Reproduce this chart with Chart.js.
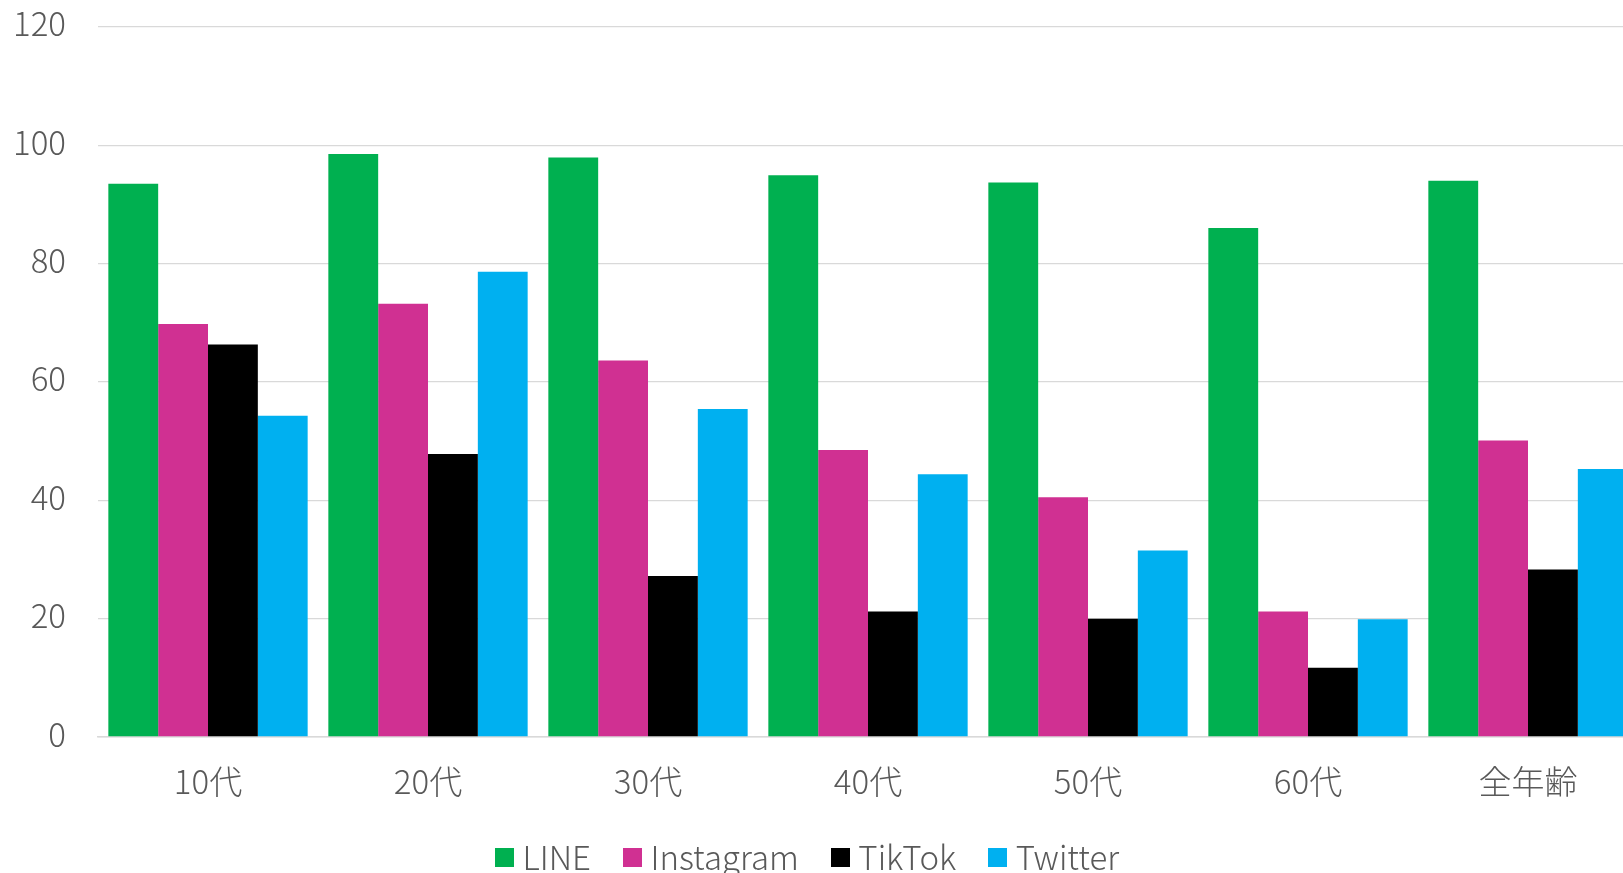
<!DOCTYPE html>
<html lang="ja">
<head>
<meta charset="utf-8">
<title>SNS利用率</title>
<script src="https://cdn.jsdelivr.net/npm/chart.js@4.4.1/dist/chart.umd.min.js"></script>
<style>
  html, body { margin: 0; padding: 0; background: #fff; overflow: hidden; }
  #wrap { width: 1623px; height: 873px; overflow: hidden; position: relative; }
  /* the canvas is a little larger than the view: the plot runs off the right edge like the original */
  canvas { display: block; position: absolute; left: 0; top: -25px; }
</style>
</head>
<body>
<div id="wrap">
  <canvas id="chart" width="1640" height="909"></canvas>
</div>
<script>
const ageGroups = ["10代", "20代", "30代", "40代", "50代", "60代", "全年齢"];
const seriesNames = ["LINE", "Instagram", "TikTok", "Twitter"];
const seriesColors = ["#00B050", "#D03092", "#000000", "#00B0F0"];
const lineValues = [93.5, 98.5, 97.9, 94.9, 93.7, 86.0, 94.0];
const instagramValues = [69.8, 73.2, 63.6, 48.5, 40.5, 21.2, 50.1];
const tiktokValues = [66.3, 47.8, 27.2, 21.2, 20.0, 11.7, 28.3];
const twitterValues = [54.3, 78.6, 55.4, 44.4, 31.5, 19.9, 45.3];
const yTicks = [0, 20, 40, 60, 80, 100, 120];

const fontFamily = "'Noto Sans CJK JP', 'Noto Sans', sans-serif";
const textColor = "#595959";

// square legend markers, drawn as point-style images so the text sits close to them
const markers = seriesColors.map((c) => {
  const cv = document.createElement("canvas");
  cv.width = 19;
  cv.height = 19;
  const g = cv.getContext("2d");
  g.fillStyle = c;
  g.fillRect(0, 0, 19, 19);
  return cv;
});

// nudge the legend a bit left, like the original
const legendShift = {
  id: "legendShift",
  afterLayout(chart) {
    if (chart.legend) {
      chart.legend.left -= 8;
      chart.legend.right -= 8;
    }
  },
};

const ctx = document.getElementById("chart").getContext("2d");

new Chart(ctx, {
  type: "bar",
  data: {
    labels: ageGroups,
    datasets: [
      { label: seriesNames[0], data: lineValues, backgroundColor: seriesColors[0] },
      { label: seriesNames[1], data: instagramValues, backgroundColor: seriesColors[1] },
      { label: seriesNames[2], data: tiktokValues, backgroundColor: seriesColors[2] },
      { label: seriesNames[3], data: twitterValues, backgroundColor: seriesColors[3] },
    ],
  },
  options: {
    responsive: false,
    animation: false,
    devicePixelRatio: 1,
    layout: { padding: { top: 0, right: 2, left: 0, bottom: 0 } },
    datasets: {
      bar: { barPercentage: 1, categoryPercentage: 0.906, borderWidth: 0 },
    },
    scales: {
      x: {
        grid: { display: false },
        border: { display: true, color: "#d9d9d9", width: 1.5 },
        ticks: {
          color: textColor,
          padding: 17,
          maxRotation: 0,
          font: { family: fontFamily, size: 33, weight: 300 },
        },
        afterFit: (axis) => { axis.height = 64; },
      },
      y: {
        min: 0,
        max: 120,
        afterBuildTicks: (axis) => { axis.ticks = yTicks.map((v) => ({ value: v })); },
        grid: { color: "#d9d9d9", lineWidth: 1.3, drawTicks: false },
        border: { display: false },
        ticks: {
          color: textColor,
          padding: 32,
          labelOffset: -3,
          font: { family: fontFamily, size: 33, weight: 300 },
        },
        afterFit: (axis) => { axis.width = 98; },
      },
    },
    plugins: {
      tooltip: { enabled: false },
      legend: {
        position: "bottom",
        labels: {
          color: textColor,
          usePointStyle: true,
          pointStyleWidth: 3,
          boxHeight: 19,
          padding: 40,
          font: { family: fontFamily, size: 33, weight: 300 },
          generateLabels: (chart) =>
            Chart.defaults.plugins.legend.labels
              .generateLabels(chart)
              .map((item, i) => ({ ...item, pointStyle: markers[i] })),
        },
      },
    },
  },
  plugins: [legendShift],
});
</script>
</body>
</html>
